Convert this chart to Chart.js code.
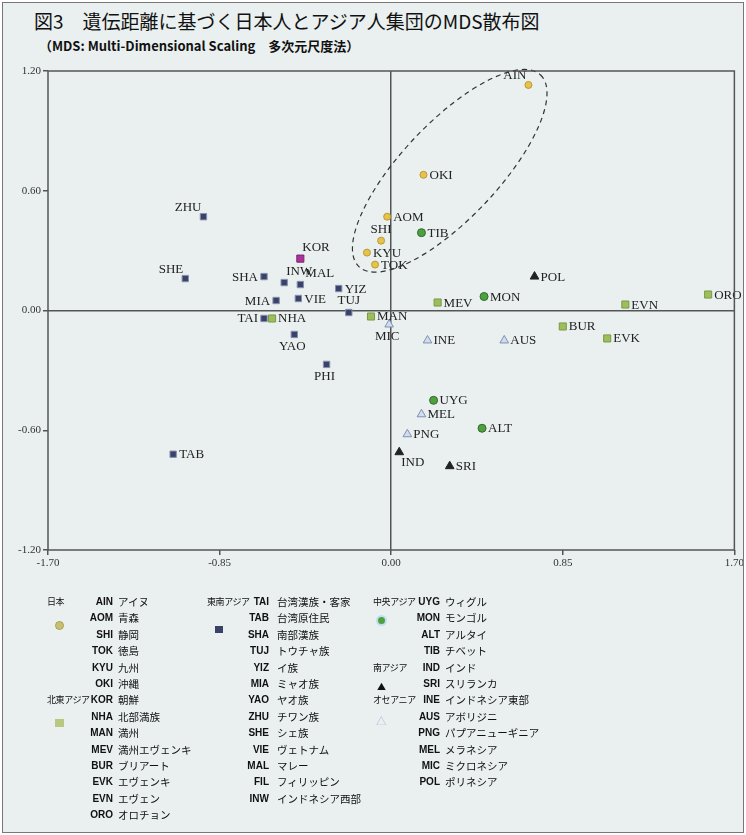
<!DOCTYPE html>
<html><head><meta charset="utf-8">
<script src="https://cdn.jsdelivr.net/npm/chart.js@4"></script>
<style>
body{margin:0;background:#fff;font-family:"Noto Sans CJK JP",sans-serif;}
#wrap{position:relative;width:740px;height:829px;margin:2px;border:1px solid #777;background:#e9f0ef;overflow:hidden}
#title{position:absolute;left:31px;top:4px;font-size:19px;color:#111;letter-spacing:0px}
#sub{position:absolute;left:36px;top:33px;font-size:13px;color:#111;font-weight:bold}
canvas{position:absolute;left:-3px;top:-3px}
.lg{position:absolute;font-size:10.5px;color:#111;white-space:nowrap;line-height:14px}
.gp{font-size:9px;letter-spacing:-0.4px}
.cd{font-weight:bold;font-family:"Liberation Sans";font-size:10px}
</style></head><body>
<div id="wrap">
<div id="title">図3　遺伝距離に基づく日本人とアジア人集団のMDS散布図</div>
<div id="sub">（MDS: Multi-Dimensional Scaling　多次元尺度法）</div>
<canvas id="c" width="746" height="600"></canvas>
</div>
<script>
// groups
const japanCodes=["AIN","OKI","AOM","SHI","KYU","TOK"];
const japanX=[0.68,0.16,-0.02,-0.05,-0.12,-0.08];
const japanY=[1.13,0.68,0.47,0.35,0.29,0.23];
const neCodes=["MAN","NHA","MEV","EVN","ORO","BUR","EVK"];
const neX=[-0.10,-0.59,0.23,1.16,1.57,0.85,1.07];
const neY=[-0.03,-0.04,0.04,0.03,0.08,-0.08,-0.14];
const korCodes=["KOR"];const korX=[-0.45];const korY=[0.26];
const seCodes=["ZHU","SHE","SHA","INW","MAL","YIZ","MIA","VIE","TUJ","TAI","YAO","PHI","TAB"];
const seX=[-0.93,-1.02,-0.63,-0.53,-0.45,-0.26,-0.57,-0.46,-0.21,-0.63,-0.48,-0.32,-1.08];
const seY=[0.47,0.16,0.17,0.14,0.13,0.11,0.05,0.06,-0.01,-0.04,-0.12,-0.27,-0.72];
const caCodes=["TIB","MON","UYG","ALT"];
const caX=[0.15,0.46,0.21,0.45];
const caY=[0.39,0.07,-0.45,-0.59];
const saCodes=["POL","IND","SRI"];
const saX=[0.71,0.04,0.29];
const saY=[0.17,-0.71,-0.78];
const ocCodes=["MIC","INE","AUS","MEL","PNG"];
const ocX=[-0.01,0.18,0.56,0.15,0.08];
const ocY=[-0.07,-0.15,-0.15,-0.52,-0.62];
const xTicks=[-1.70,-0.85,0.00,0.85,1.70];
const yTicks=[-1.20,-0.60,0.00,0.60,1.20];
// label placement (style)
const labelPos={AIN:"tl",ZHU:"tl",SHE:"tl",SHA:"l",MIA:"l",TAI:"l",KOR:"tr",YAO:"b",PHI:"b",MIC:"b",SHI:"t",INW:"tr",MAL:"tr2",TUJ:"t",IND:"r2"};
// legend
const legCol1=[["AIN","アイヌ"],["AOM","青森"],["SHI","静岡"],["TOK","徳島"],["KYU","九州"],["OKI","沖縄"],["KOR","朝鮮"],["NHA","北部満族"],["MAN","満州"],["MEV","満州エヴェンキ"],["BUR","ブリアート"],["EVK","エヴェンキ"],["EVN","エヴェン"],["ORO","オロチョン"]];
const legCol2=[["TAI","台湾漢族・客家"],["TAB","台湾原住民"],["SHA","南部漢族"],["TUJ","トウチャ族"],["YIZ","イ族"],["MIA","ミャオ族"],["YAO","ヤオ族"],["ZHU","チワン族"],["SHE","シェ族"],["VIE","ヴェトナム"],["MAL","マレー"],["FIL","フィリッピン"],["INW","インドネシア西部"]];
const legCol3=[["UYG","ウィグル"],["MON","モンゴル"],["ALT","アルタイ"],["TIB","チベット"],["IND","インド"],["SRI","スリランカ"],["INE","インドネシア東部"],["AUS","アボリジニ"],["PNG","パプアニューギニア"],["MEL","メラネシア"],["MIC","ミクロネシア"],["POL","ポリネシア"]];

function mk(codes,xs,ys){return codes.map((c,i)=>({x:xs[i],y:ys[i],code:c}));}
const ds=[
 {data:mk(japanCodes,japanX,japanY),pointStyle:'circle',radius:3.5,backgroundColor:'#e8c24a',borderColor:'#b89a30'},
 {data:mk(neCodes,neX,neY),pointStyle:'rect',radius:5,backgroundColor:'#9dbe5e',borderColor:'#7a9a40'},
 {data:mk(korCodes,korX,korY),pointStyle:'rect',radius:5,backgroundColor:'#a8369a',borderColor:'#802070'},
 {data:mk(seCodes,seX,seY),pointStyle:'rect',radius:4.5,backgroundColor:'#3b4268',borderColor:'#8890b0'},
 {data:mk(caCodes,caX,caY),pointStyle:'circle',radius:4,backgroundColor:'#4fa040',borderColor:'#2f6a2a'},
 {data:mk(saCodes,saX,saY),pointStyle:'triangle',radius:5,backgroundColor:'#222',borderColor:'#222'},
 {data:mk(ocCodes,ocX,ocY),pointStyle:'triangle',radius:5,backgroundColor:'#d0dcef',borderColor:'#8090b0'}
];
const labels={id:'lbl',afterDatasetsDraw(ch){
 const c=ch.ctx;c.save();c.font='13px "Liberation Serif"';c.fillStyle='#222';
 ch.data.datasets.forEach((d,di)=>{ch.getDatasetMeta(di).data.forEach((p,i)=>{
  const code=d.data[i].code;const pos=labelPos[code]||'r';const w=c.measureText(code).width;
  let x=p.x+6,y=p.y+4;
  if(pos==='l'){x=p.x-w-6;}
  if(pos==='tl'){x=p.x-w-2;y=p.y-6;}
  if(pos==='tr'){x=p.x+2;y=p.y-8;}
  if(pos==='tr2'){x=p.x+5;y=p.y-8;}
  if(pos==='t'){x=p.x-w/2;y=p.y-8;}
  if(pos==='b'){x=p.x-w/2-2;y=p.y+16;}
  if(pos==='r2'){x=p.x+2;y=p.y+14;}
  c.fillText(code,x,y);
 });});
 const xs=ch.scales.x,ys=ch.scales.y;
 const x1=xs.getPixelForValue(-0.16),y1=ys.getPixelForValue(0.22),x2=xs.getPixelForValue(0.74),y2=ys.getPixelForValue(1.18);
 const cx=(x1+x2)/2,cy=(y1+y2)/2,a=Math.hypot(x2-x1,y2-y1)/2,ang=Math.atan2(y2-y1,x2-x1);
 c.setLineDash([5,4]);c.strokeStyle='#333';c.lineWidth=1.2;c.beginPath();c.ellipse(cx,cy,a,48,ang,0,Math.PI*2);c.stroke();
 c.setLineDash([]);c.strokeStyle='#555';c.lineWidth=1.5;const ca=ch.chartArea;c.strokeRect(ca.left,ca.top,ca.right-ca.left,ca.bottom-ca.top);
 c.restore();}};
new Chart(document.getElementById('c'),{type:'scatter',data:{datasets:ds},plugins:[labels],
options:{responsive:false,animation:false,layout:{padding:{left:8,top:71,right:10,bottom:25}},
plugins:{legend:{display:false},tooltip:{enabled:false}},
scales:{
 x:{min:-1.7,max:1.7,afterBuildTicks(s){s.ticks=xTicks.map(v=>({value:v}));},afterFit(s){s.height=25;},
   ticks:{callback:v=>v.toFixed(2),font:{family:'Liberation Serif',size:11},color:'#333',maxRotation:0,padding:2},
   grid:{color:c=>c.tick&&c.tick.value===0?'#555':'transparent',lineWidth:1.5,drawTicks:true,tickColor:'#555',tickLength:5},border:{display:false}},
 y:{min:-1.2,max:1.2,afterBuildTicks(s){s.ticks=yTicks.map(v=>({value:v}));},afterFit(s){s.width=40;},
   ticks:{callback:v=>v.toFixed(2),font:{family:'Liberation Serif',size:11},color:'#333',padding:2},
   grid:{color:c=>c.tick&&c.tick.value===0?'#555':'transparent',lineWidth:1.5,drawTicks:true,tickColor:'#555',tickLength:5},border:{display:false}}
}}});
const wrap=document.getElementById('wrap');
function add(html,x,y,cls){const d=document.createElement('div');d.className='lg'+(cls?' '+cls:'');d.innerHTML=html;d.style.left=x+'px';d.style.top=y+'px';wrap.appendChild(d);}
const top0=592,rh=16.4;
function col(list,xn,right){list.forEach((r,i)=>{const y=top0+i*rh;
 const s=document.createElement('div');s.className='lg cd';s.textContent=r[0];s.style.top=y+'px';
 s.style.right=(740-right)+'px';wrap.appendChild(s);add(r[1],xn,y);});}
col(legCol1,115,110);col(legCol2,274,266);col(legCol3,442,437);
add('日本',44,top0,'gp');add('<span style="display:inline-block;width:7px;height:7px;border-radius:50%;background:#c8c070;border:1px solid #a8a050"></span>',52,top0+24);
add('北東アジア',44,top0+6*rh,'gp');add('<span style="display:inline-block;width:9px;height:8px;background:#b8c880"></span>',52,top0+6*rh+23);
add('東南アジア',204,top0,'gp');add('<span style="display:inline-block;width:8px;height:7px;background:#3b4268"></span>',212,top0+27);
add('中央アジア',370,top0,'gp');add('<span style="display:inline-block;width:7px;height:7px;border-radius:50%;background:#4fa040;border:2px solid #bfe0f0"></span>',373,top0+20);
add('南アジア',370,top0+4*rh,'gp');add('<span style="font-size:9px">▲</span>',374,top0+5*rh+2);
add('オセアニア',370,top0+6*rh,'gp');add('<span style="color:#aabbdd">△</span>',373,top0+7*rh+4);
</script></body></html>
